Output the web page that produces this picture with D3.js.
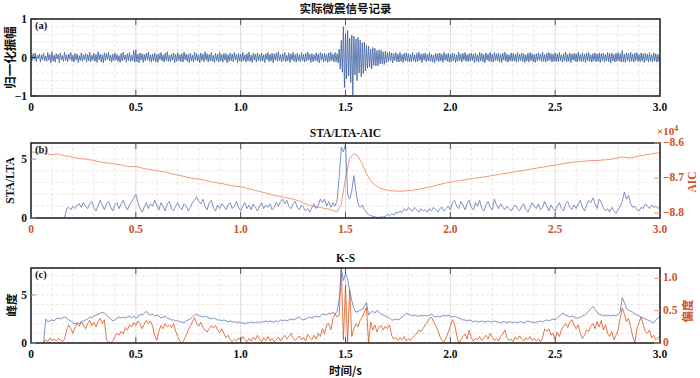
<!DOCTYPE html>
<html>
<head>
<meta charset="utf-8">
<script src="https://cdn.jsdelivr.net/npm/d3@7"></script>
<style>
body { margin: 0; background: #fff; }
text { font-family: "Liberation Serif", "DejaVu Serif", serif; font-weight: bold; }
.cjk { font-family: "Noto Sans CJK SC", sans-serif; font-weight: bold; }
</style>
</head>
<body>
<script>
// (a) normalised amplitude x100, one sample every 0.005 s from 0 s
const ampPct = [
3,-8,10,-5,12,-11,6,-3,9,-12,7,-6,11,-9,4,-10,13,-7,8,-14,
15,-9,6,-12,10,-4,8,-13,12,-6,5,-10,14,-8,7,-11,9,-5,13,-10,
6,-12,11,-7,9,-13,5,-8,12,-10,7,-6,10,-12,8,-9,14,-11,6,-7,
11,-10,8,-13,15,-6,9,-11,7,-14,12,-8,10,-5,13,-9,6,-12,9,-8,
12,-7,8,-10,5,-13,11,-9,14,-6,7,-12,10,-8,13,-10,6,-9,18,-12,
20,-11,9,-14,12,-7,10,-13,8,-9,11,-6,14,-10,7,-12,9,-8,12,-11,
8,-13,10,-6,13,-9,7,-12,11,-8,15,-10,6,-11,9,-7,12,-14,8,-10,
13,-8,7,-11,10,-12,14,-6,9,-10,8,-13,11,-9,6,-12,13,-7,10,-9,
7,-14,12,-8,9,-11,15,-7,10,-12,8,-9,13,-10,6,-13,11,-8,9,-12,
14,-9,8,-12,11,-7,10,-14,7,-10,12,-8,9,-11,13,-6,8,-13,10,-9,
9,-11,13,-8,7,-12,10,-9,14,-10,6,-13,11,-7,9,-12,12,-8,8,-10,
12,-9,7,-13,10,-6,13,-11,8,-9,11,-14,9,-7,12,-10,15,-8,7,-12,
10,-8,13,-11,6,-9,12,-13,9,-7,14,-10,8,-12,11,-9,7,-11,13,-8,
8,-12,11,-9,14,-7,9,-13,10,-11,7,-8,12,-10,9,-14,13,-7,10,-12,
11,-9,8,-13,12,-10,14,-8,9,-12,13,-11,10,-14,22,-30,45,-38,80,-78,
62,-55,70,-48,50,-65,58,-98,55,-45,48,-60,52,-40,45,-50,38,-42,40,-35,
32,-28,30,-25,22,-30,26,-20,24,-22,18,-21,20,-17,19,-16,15,-18,17,-14,
13,-10,15,-9,12,-14,10,-8,13,-11,9,-12,14,-10,8,-13,11,-9,12,-10,
10,-12,8,-11,13,-9,7,-12,11,-10,14,-8,9,-13,10,-7,12,-11,8,-9,
13,-10,9,-12,7,-14,11,-8,10,-11,12,-9,8,-13,14,-7,9,-10,11,-12,
8,-11,12,-9,10,-13,7,-10,14,-8,9,-12,11,-7,13,-10,8,-11,10,-9,
12,-8,9,-13,11,-10,7,-12,13,-9,10,-11,8,-14,12,-7,9,-10,14,-11,
9,-12,13,-8,10,-9,12,-11,8,-13,11,-7,14,-10,9,-12,7,-9,12,-10,
11,-9,8,-12,13,-10,9,-8,12,-11,10,-13,7,-9,11,-12,13,-8,10,-11,
8,-13,10,-9,12,-7,9,-11,14,-10,8,-12,11,-9,13,-8,10,-12,9,-10,
12,-10,9,-11,13,-8,7,-12,10,-9,14,-11,8,-10,12,-13,9,-7,11,-10,
10,-12,14,-9,8,-11,12,-10,9,-13,11,-8,13,-10,7,-12,10,-9,12,-11,
9,-10,12,-13,10,-8,11,-12,8,-9,13,-11,10,-14,12,-9,8,-12,11,-10,
13,-9,10,-12,18,-11,9,-13,12,-8,10,-11,14,-10,9,-12,11,-8,13,-10,
8,-11,12,-9,10,-13,11,-8,9,-12,13,-10,7,-11,12,-9,10,-12,8,-10,
5
];
const ampStep = 0.005;

// (b) STA/LTA, every 0.01 s from 0.16 s
const staLta = [
0,
0.8,0.9,0.7,1.0,0.8,1.1,1.2,0.9,1.3,1.0,
0.8,1.2,1.4,0.9,0.6,1.0,1.5,1.1,0.7,1.2,
1.4,0.9,0.6,1.1,1.3,0.8,1.2,1.5,1.0,0.7,
1.1,1.4,1.7,2.0,1.3,0.8,0.5,0.9,1.3,0.8,
1.2,1.0,1.5,1.1,0.7,1.3,1.0,0.6,1.2,1.4,
0.8,0.6,1.0,1.3,0.9,0.7,1.2,1.0,0.6,0.9,
1.3,1.5,1.8,1.4,1.2,1.6,1.0,0.7,1.3,1.5,
0.9,0.6,1.1,0.8,1.2,1.0,0.7,1.1,1.3,0.8,
1.0,1.4,0.9,0.6,1.0,1.3,0.8,1.1,0.7,1.2,
0.9,0.6,1.0,1.3,0.8,1.1,0.9,1.2,0.7,0.9,
1.3,1.0,1.4,1.6,1.2,1.5,1.0,0.8,1.2,1.4,
0.9,0.7,1.1,0.9,0.6,0.8,0.5,0.9,1.2,0.8,
1.1,1.6,1.3,1.6,1.0,1.4,0.9,1.3,1.0,1.5,
3.5,6.0,5.6,6.3,2.0,1.6,2.3,3.6,2.2,1.2,
0.9,1.1,0.7,0.5,0.3,0.2,0.15,0.1,0.05,0.05,
0.1,0.08,0.15,0.3,0.2,0.35,0.25,0.5,0.4,0.6,
0.45,0.8,0.6,0.9,0.7,0.6,0.9,0.7,0.5,0.8,
0.6,0.7,0.5,0.8,0.6,0.9,0.7,0.5,0.8,0.9,
0.6,0.8,1.0,0.7,1.3,1.5,1.0,0.8,1.4,1.1,
0.7,1.2,1.5,0.9,0.7,1.3,1.0,1.5,0.8,0.6,
1.1,1.4,0.9,0.7,1.6,1.1,0.8,1.2,0.9,0.7,
1.0,0.8,0.6,0.9,1.1,0.8,0.6,1.0,1.2,0.7,
0.5,0.9,1.3,1.0,0.8,1.2,0.7,0.9,1.4,1.0,
0.6,1.1,0.8,0.6,1.0,1.3,0.8,0.6,1.2,1.4,
0.9,0.7,1.1,0.8,1.2,1.5,0.9,0.6,1.1,1.5,
1.3,1.7,1.2,0.8,1.6,1.3,0.9,0.6,0.8,0.5,
0.9,0.6,0.4,0.7,1.0,1.4,2.2,1.6,1.9,1.2,
0.9,1.0,0.7,0.6,0.9,0.8,1.2,1.0,0.8,1.1,
0.9,1.0,0.8,1.0
];
const staStart = 0.16, staStep = 0.01;

// (b) AIC in units of 10^4, every 0.02 s from 0 s
const aic = [
-8.625,-8.627,-8.629,-8.630,-8.631,-8.634,-8.631,-8.633,-8.636,-8.638,
-8.641,-8.643,-8.645,-8.646,-8.648,-8.650,-8.653,-8.655,-8.657,-8.658,
-8.660,-8.662,-8.664,-8.667,-8.668,-8.667,-8.670,-8.673,-8.675,-8.677,
-8.679,-8.681,-8.683,-8.686,-8.689,-8.692,-8.694,-8.697,-8.700,-8.702,
-8.703,-8.706,-8.708,-8.711,-8.713,-8.715,-8.717,-8.720,-8.722,-8.724,
-8.725,-8.728,-8.731,-8.734,-8.737,-8.740,-8.743,-8.746,-8.749,-8.752,
-8.754,-8.757,-8.759,-8.762,-8.766,-8.771,-8.776,-8.780,-8.783,-8.784,
-8.787,-8.789,-8.793,-8.797,-8.775,-8.700,-8.645,-8.630,-8.638,-8.660,
-8.688,-8.708,-8.720,-8.728,-8.732,-8.735,-8.737,-8.737,-8.738,-8.737,
-8.736,-8.735,-8.733,-8.731,-8.728,-8.726,-8.723,-8.720,-8.717,-8.714,
-8.712,-8.710,-8.708,-8.706,-8.704,-8.702,-8.700,-8.699,-8.697,-8.695,
-8.693,-8.691,-8.689,-8.687,-8.685,-8.683,-8.681,-8.679,-8.677,-8.675,
-8.673,-8.671,-8.669,-8.667,-8.665,-8.663,-8.661,-8.659,-8.657,-8.655,
-8.654,-8.653,-8.652,-8.651,-8.650,-8.650,-8.649,-8.648,-8.647,-8.645,
-8.642,-8.640,-8.642,-8.643,-8.640,-8.637,-8.635,-8.633,-8.631,-8.629,
-8.628
];
const aicStep = 0.02;

// (c) kurtosis and skewness, every 0.01 s from 0.06 s
const kurt = [
0,
2.5,2.2,2.3,2.4,2.3,2.5,2.6,2.5,2.6,2.7,
2.6,2.4,2.3,2.1,2.0,2.1,2.0,2.2,2.3,2.4,
2.5,2.7,2.6,2.8,2.9,3.0,3.1,3.2,3.1,2.9,
2.7,2.5,2.3,2.4,2.6,2.7,2.6,2.7,2.6,2.7,
2.8,2.6,2.8,2.6,2.7,3.0,2.9,3.1,3.3,3.0,
2.9,3.0,2.8,2.9,2.8,2.6,2.7,2.8,2.6,2.5,
2.4,2.4,2.3,2.3,2.2,2.2,2.1,2.3,2.4,2.5,
2.7,2.9,3.0,2.8,2.8,2.7,2.8,2.7,2.6,2.5,
2.6,2.5,2.4,2.4,2.3,2.4,2.3,2.2,2.3,2.2,
2.2,2.1,2.2,2.1,2.1,2.0,2.1,2.1,2.2,2.1,
2.1,2.2,2.1,2.2,2.2,2.3,2.2,2.3,2.2,2.2,
2.3,2.2,2.4,2.3,2.4,2.3,2.4,2.5,2.4,2.5,
2.6,2.7,2.5,2.4,2.5,2.6,2.7,2.6,2.7,2.8,
2.7,2.8,3.0,3.0,2.9,3.1,3.0,3.2,3.0,3.3,
4.5,7.8,6.5,7.2,6.7,5.4,4.4,3.6,3.2,3.3,
3.4,3.5,3.8,4.2,2.9,3.2,3.3,3.1,3.4,3.2,
3.0,2.9,2.8,2.7,2.6,2.4,2.4,2.5,2.4,2.5,
2.7,2.9,3.1,3.0,2.9,2.8,2.9,2.8,2.8,2.9,
2.8,2.9,2.8,2.9,3.0,2.8,2.7,2.8,2.7,2.8,
2.9,2.8,2.9,2.8,2.7,2.8,2.7,2.6,2.5,2.4,
2.4,2.3,2.4,2.3,2.2,2.3,2.2,2.2,2.3,2.2,
2.2,2.3,2.2,2.2,2.3,2.2,2.2,2.1,2.2,2.2,
2.1,2.2,2.2,2.1,2.2,2.1,2.2,2.2,2.1,2.2,
2.3,2.2,2.2,2.1,2.2,2.2,2.3,2.2,2.3,2.4,
2.3,2.4,2.5,2.4,2.6,2.8,3.0,3.1,2.9,2.8,
2.7,2.8,2.7,2.6,2.6,2.7,2.8,2.9,3.1,3.3,
3.6,3.8,3.5,3.2,3.0,2.9,2.8,2.9,2.8,2.9,
2.8,2.9,2.8,3.0,3.2,4.7,4.2,3.6,3.4,3.3,
3.2,3.0,2.9,2.8,2.7,2.6,2.5,2.4,2.3,2.2,
2.1,2.4,2.6,2.8
];
const skew = [
0,
0.05,0.02,0.08,0.04,0.06,0.03,0.07,0.05,0.02,0.06,
0.20,0.28,0.22,0.15,0.24,0.30,0.26,0.33,0.28,0.22,
0.30,0.35,0.27,0.32,0.25,0.33,0.38,0.30,0.36,0.05,
0.02,0.00,0.03,0.10,0.15,0.12,0.18,0.14,0.24,0.20,
0.28,0.25,0.32,0.27,0.34,0.30,0.22,0.29,0.35,0.30,
0.34,0.26,0.12,0.04,0.18,0.27,0.22,0.30,0.25,0.28,
0.24,0.30,0.18,0.10,0.03,0.00,0.05,0.12,0.20,0.26,
0.33,0.39,0.30,0.26,0.32,0.24,0.20,0.17,0.22,0.27,
0.23,0.27,0.20,0.16,0.22,0.15,0.08,0.12,0.05,0.02,
0.06,0.03,0.08,0.04,0.10,0.05,0.02,0.07,0.03,0.09,
0.05,0.12,0.06,0.02,0.08,0.04,0.10,0.03,0.07,0.02,
0.05,0.09,0.03,0.08,0.12,0.06,0.10,0.15,0.08,0.04,
0.07,0.11,0.05,0.09,0.03,0.13,0.08,0.05,0.12,0.06,
0.15,0.10,0.22,0.14,0.28,0.30,0.20,0.38,0.45,0.40,
0.43,1.15,0.05,0.90,0.00,0.83,0.10,0.22,0.30,0.25,
0.35,0.40,0.48,0.55,0.00,0.32,0.20,0.28,0.17,0.25,
0.27,0.20,0.26,0.22,0.28,0.12,0.06,0.09,0.04,0.08,
0.05,0.10,0.03,0.07,0.04,0.08,0.12,0.15,0.20,0.18,
0.22,0.28,0.32,0.38,0.40,0.33,0.27,0.20,0.10,0.04,
0.02,0.08,0.17,0.26,0.36,0.30,0.12,0.00,0.05,0.10,
0.14,0.06,0.20,0.08,0.03,0.07,0.05,0.10,0.04,0.08,
0.12,0.06,0.15,0.09,0.04,0.07,0.03,0.10,0.14,0.20,
0.08,0.04,0.06,0.02,0.09,0.05,0.11,0.06,0.03,0.08,
0.05,0.10,0.04,0.07,0.03,0.06,0.02,0.08,0.22,0.18,
0.22,0.12,0.15,0.06,0.17,0.10,0.20,0.26,0.30,0.24,
0.32,0.36,0.28,0.22,0.28,0.15,0.07,0.12,0.20,0.18,
0.26,0.30,0.22,0.33,0.25,0.35,0.20,0.28,0.15,0.10,
0.18,0.05,0.12,0.20,0.38,0.54,0.45,0.33,0.38,0.25,
0.10,0.00,0.22,0.32,0.40,0.28,0.18,0.15,0.20,0.08,
0.12,0.05,0.08,0.10
];
const ksStart = 0.06, ksStep = 0.01;

const xTicks = [0, 0.5, 1.0, 1.5, 2.0, 2.5, 3.0];
const xTickLabels = ["0", "0.5", "1.0", "1.5", "2.0", "2.5", "3.0"];
const ampTicks = [-100, 0, 100], ampTickLabels = ["\u22121", "0", "1"];
const staTicks = [0, 5];
const aicTicks = [-8.8, -8.7, -8.6], aicTickLabels = ["\u22128.8", "\u22128.7", "\u22128.6"];
const kurtTicks = [0, 5];
const skewTicks = [0, 0.5, 1.0], skewTickLabels = ["0", "0.5", "1.0"];

const titles = ["实际微震信号记录", "STA/LTA-AIC", "K-S"];

let width = 700, height = 378;
let left = 31, right = 660;

const blue = "#3c60a0", blueThin = "#5a76b8", orange = "#d9541c", salmon = "#ee8c68", axisRed = "#d0502a";

let svg = d3.select("body").append("svg").attr("width", width).attr("height", height);

let x = d3.scaleLinear().domain([0, 3]).range([left, right]);

let panels = [
  {top: 19, bottom: 96, id: "ca", tag: "(a)"},
  {top: 143, bottom: 218, id: "cb", tag: "(b)"},
  {top: 268, bottom: 343, id: "cc", tag: "(c)"}
];

let yA = d3.scaleLinear().domain([-100, 100]).range([panels[0].bottom, panels[0].top]);
let yS = d3.scaleLinear().domain([0, 6.36]).range([panels[1].bottom, panels[1].top]);
let yAic = d3.scaleLinear().domain([-8.8143, -8.6]).range([panels[1].bottom, panels[1].top]);
let yK = d3.scaleLinear().domain([0, 7.8]).range([panels[2].bottom, panels[2].top]);
let ySk = d3.scaleLinear().domain([0, 1.16]).range([panels[2].bottom, panels[2].top]);

let defs = svg.append("defs");
panels.forEach(p => {
  defs.append("clipPath").attr("id", p.id).append("rect")
    .attr("x", left).attr("y", p.top).attr("width", right - left).attr("height", p.bottom - p.top);
});

function grid(p, yScale, yGrid) {
  let g = svg.append("g");
  g.selectAll(".vg").data(d3.range(1, 30).map(i => i / 10))
    .enter().append("line")
    .attr("x1", d => x(d)).attr("x2", d => x(d))
    .attr("y1", p.top).attr("y2", p.bottom)
    .attr("stroke", d => Math.abs(d * 2 - Math.round(d * 2)) < 1e-6 ? "#d9d0d0" : "#efdede")
    .attr("stroke-width", 0.8)
    .attr("stroke-dasharray", d => Math.abs(d * 2 - Math.round(d * 2)) < 1e-6 ? null : "3,2");
  g.selectAll(".hg").data(yGrid)
    .enter().append("line")
    .attr("x1", left).attr("x2", right)
    .attr("y1", d => yScale(d)).attr("y2", d => yScale(d))
    .attr("stroke", "#ece0e0").attr("stroke-width", 0.8).attr("stroke-dasharray", "3,2");
}

function frame(p, xColor) {
  let g = svg.append("g");
  g.selectAll(".tt").data(xTicks.slice(1, -1)).enter().append("line")
    .attr("x1", d => x(d)).attr("x2", d => x(d)).attr("y1", p.top).attr("y2", p.top + 6)
    .attr("stroke", "#555").attr("stroke-width", 1);
  g.selectAll(".bt").data(xTicks.slice(1, -1)).enter().append("line")
    .attr("x1", d => x(d)).attr("x2", d => x(d)).attr("y1", p.bottom).attr("y2", p.bottom - 6)
    .attr("stroke", "#555").attr("stroke-width", 1);
  g.append("rect").attr("x", left).attr("y", p.top)
    .attr("width", right - left).attr("height", p.bottom - p.top)
    .attr("fill", "none").attr("stroke", "#262626").attr("stroke-width", 1.6);
  g.selectAll(".xl").data(xTicks).enter().append("text")
    .attr("x", d => x(d)).attr("y", p.bottom + 15)
    .attr("text-anchor", "middle").attr("font-size", 11.5)
    .attr("fill", xColor)
    .text((d, i) => xTickLabels[i]);
  g.append("text").attr("x", left + 4).attr("y", p.top + 10)
    .attr("font-size", 10.5).attr("fill", "#111").text(p.tag);
}

function leftAxis(yScale, ticks, labels, tickColor) {
  let g = svg.append("g");
  g.selectAll("line").data(ticks).enter().append("line")
    .attr("x1", left).attr("x2", left + 5)
    .attr("y1", d => yScale(d)).attr("y2", d => yScale(d))
    .attr("stroke", tickColor).attr("stroke-width", 1);
  g.selectAll("text").data(ticks).enter().append("text")
    .attr("x", left - 4).attr("y", d => yScale(d) + 4)
    .attr("text-anchor", "end").attr("font-size", 11.5).attr("fill", "#111")
    .text((d, i) => labels ? labels[i] : d);
}

function rightAxis(yScale, ticks, labels) {
  let g = svg.append("g");
  g.selectAll("line").data(ticks).enter().append("line")
    .attr("x1", right - 6).attr("x2", right)
    .attr("y1", d => yScale(d)).attr("y2", d => yScale(d))
    .attr("stroke", "#e8946e").attr("stroke-width", 1);
  g.selectAll("text").data(ticks).enter().append("text")
    .attr("x", right + 3).attr("y", d => yScale(d) + 3)
    .attr("text-anchor", "start").attr("font-size", 11.5).attr("fill", axisRed)
    .text((d, i) => labels[i]);
}

function yLabel(text, cx, cy, color, cls, size) {
  svg.append("text")
    .attr("class", cls || null)
    .attr("transform", "translate(" + cx + "," + cy + ") rotate(-90)")
    .attr("text-anchor", "middle").attr("dominant-baseline", "central")
    .attr("font-size", size || 11.5).attr("fill", color).text(text);
}

function series(values, start, step, yScale, p, color, w) {
  let line = d3.line()
    .x((d, i) => x(start + i * step))
    .y(d => yScale(d));
  svg.append("path").datum(values)
    .attr("clip-path", "url(#" + p.id + ")")
    .attr("d", line)
    .attr("fill", "none").attr("stroke", color).attr("stroke-width", w)
    .attr("stroke-linejoin", "round");
}

// panel (a)
let pa = panels[0];
grid(pa, yA, d3.range(-80, 100, 20));
series(ampPct, 0, ampStep, yA, pa, blue, 0.8);
frame(pa, "#111");
leftAxis(yA, ampTicks, ampTickLabels, "#333");
yLabel("归一化振幅", 9, (pa.top + pa.bottom) / 2, "#111", "cjk", 12.5);

// panel (b)
let pb = panels[1];
grid(pb, yS, [1, 2, 3, 4, 5, 6]);
series(aic, 0, aicStep, yAic, pb, salmon, 0.9);
series(staLta, staStart, staStep, yS, pb, blueThin, 0.8);
frame(pb, axisRed);
leftAxis(yS, staTicks, null, "#7f97cc");
rightAxis(yAic, aicTicks, aicTickLabels);
yLabel("STA/LTA", 10, (pb.top + pb.bottom) / 2, "#111");
yLabel("AIC", 692, 182, axisRed);
let exp = svg.append("text").attr("x", 657).attr("y", 135).attr("font-size", 11).attr("fill", axisRed);
exp.append("tspan").text("\u00d710");
exp.append("tspan").attr("dy", -4).attr("font-size", 8).text("4");

// panel (c)
let pc = panels[2];
grid(pc, yK, [1, 2, 3, 4, 5, 6, 7]);
series(skew, ksStart, ksStep, ySk, pc, orange, 0.8);
series(kurt, ksStart, ksStep, yK, pc, blueThin, 0.8);
frame(pc, "#111");
leftAxis(yK, kurtTicks, null, "#7f97cc");
rightAxis(ySk, skewTicks, skewTickLabels);
yLabel("峰度", 11, 305, "#111", "cjk");
yLabel("偏度", 687, 311, axisRed, "cjk");

// titles
let tY = [13, 137, 262];
titles.forEach((t, i) => {
  svg.append("text").attr("class", i === 0 ? "cjk" : null)
    .attr("x", (left + right) / 2).attr("y", tY[i])
    .attr("text-anchor", "middle").attr("font-size", 11.5).attr("fill", "#111")
    .text(t);
});

svg.append("text").attr("class", "cjk")
  .attr("x", (left + right) / 2).attr("y", 375)
  .attr("text-anchor", "middle").attr("font-size", 11.5).attr("fill", "#111")
  .text("时间/s");
</script>
</body>
</html>
